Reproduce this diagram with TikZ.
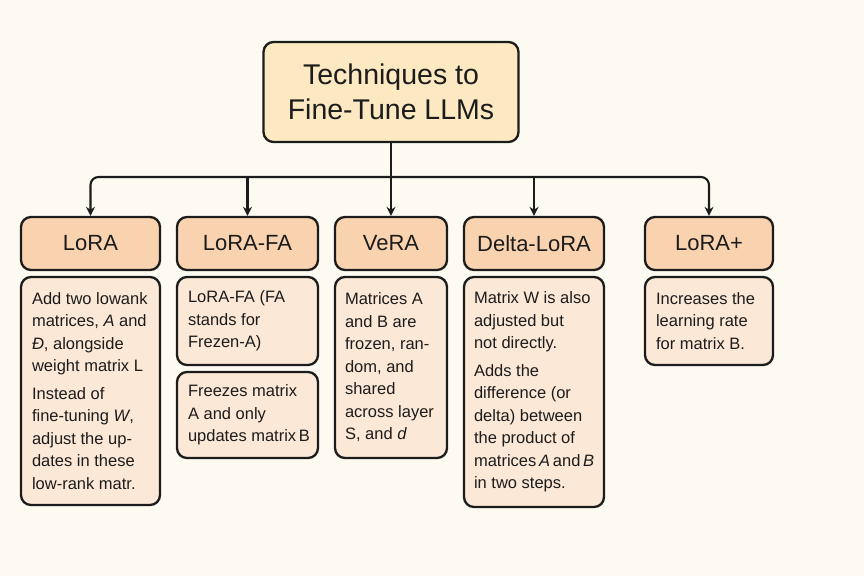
\documentclass[tikz,border=0pt]{standalone}
\usepackage{fontspec}
\setmainfont{Liberation Sans}
\usetikzlibrary{arrows.meta}
\definecolor{bg}{HTML}{FDFAF2}
\definecolor{titlefill}{HTML}{FCE9C2}
\definecolor{headfill}{HTML}{F9D3B0}
\definecolor{descfill}{HTML}{FCE8D6}
\definecolor{ink}{HTML}{1C1C1C}
\tikzset{
  box/.style={draw=ink, line width=2.3pt, rounded corners=10pt, text=ink, inner sep=0pt},
  titlebox/.style={box, fill=titlefill, align=center, font=\fontsize{28.5}{35}\selectfont},
  headbox/.style={box, fill=headfill, minimum height=53pt, font=\fontsize{22}{26}\selectfont},
  descbox/.style={box, fill=descfill},
  desctext/.style={anchor=west, inner sep=0pt, text=ink, align=left, font=\fontsize{16.5}{22.5}\selectfont},
  conn/.style={draw=ink, line width=2.1pt},
  arr/.style={conn, -{Stealth[length=9pt,width=9pt]}}
}
\begin{document}
\begin{tikzpicture}[x=1pt,y=-1pt]
\fill[bg] (0,0) rectangle (864,576);
\useasboundingbox (0,0) rectangle (864,576);

% title
\node[titlebox, minimum width=255pt, minimum height=100pt] (title) at (391,92) {Techniques to\\Fine-Tune LLMs};

% headers
\node[headbox, minimum width=139pt] (lora) at (90.5,243.5) {LoRA};
\node[headbox, minimum width=141pt] (fa) at (247.5,243.5) {LoRA-FA};
\node[headbox, minimum width=112pt] (vera) at (391,243.5) {VeRA};
\node[headbox, minimum width=140pt] (delta) at (534,243.5) {Delta-LoRA};
\node[headbox, minimum width=128pt] (plus) at (709,243.5) {LoRA+};

% description boxes
\node[descbox, minimum width=139pt, minimum height=228pt] (lorad) at (90.5,391) {};
\node[descbox, minimum width=141pt, minimum height=88pt] (fad1) at (247.5,321) {};
\node[descbox, minimum width=141pt, minimum height=86pt] (fad2) at (247.5,415) {};
\node[descbox, minimum width=112pt, minimum height=181pt] (verad) at (391,367.5) {};
\node[descbox, minimum width=140pt, minimum height=230pt] (deltad) at (534,392) {};
\node[descbox, minimum width=128pt, minimum height=88pt] (plusd) at (709,321) {};

% description texts
\node[desctext] (loradt) at ([xshift=12pt]lorad.west)
 {Add two lowank\\matrices, \textit{A} and\\\textit{Đ}, alongside\\weight matrix L\\[5pt]Instead of\\fine-tuning \textit{W},\\adjust the up-\\dates in these\\low-rank matr.};
\node[desctext] (fad1t) at ([xshift=12pt]fad1.west)
 {LoRA-FA (FA\\stands for\\Frezen-A)};
\node[desctext] (fad2t) at ([xshift=12pt]fad2.west)
 {Freezes matrix\\A and only\\updates matrix\,B};
\node[desctext] (veradt) at ([xshift=11pt]verad.west)
 {Matrices A\\and B are\\frozen, ran-\\dom, and\\shared\\across layer\\S, and \textit{d}};
\node[desctext] (deltadt) at ([xshift=11pt]deltad.west)
 {Matrix W is also\\adjusted but\\not directly.\\[5pt]Adds the\\difference (or\\delta) between\\the product of\\matrices\,\textit{A}\,and\,\textit{B}\\in two steps.};
\node[desctext] (plusdt) at ([xshift=12pt]plusd.west)
 {Increases the\\learning rate\\for matrix B.};

% connectors
\coordinate (bus) at (391,177);
\draw[conn] (title.south) -- (bus);
\draw[arr, rounded corners=8pt] (bus) -| (lora.north);
\draw[arr, rounded corners=8pt] (bus) -| (plus.north);
\draw[arr] (fa.north |- bus) -- (fa.north);
\draw[arr] (bus) -- (vera.north);
\draw[arr] (delta.north |- bus) -- (delta.north);
\end{tikzpicture}
\end{document}
